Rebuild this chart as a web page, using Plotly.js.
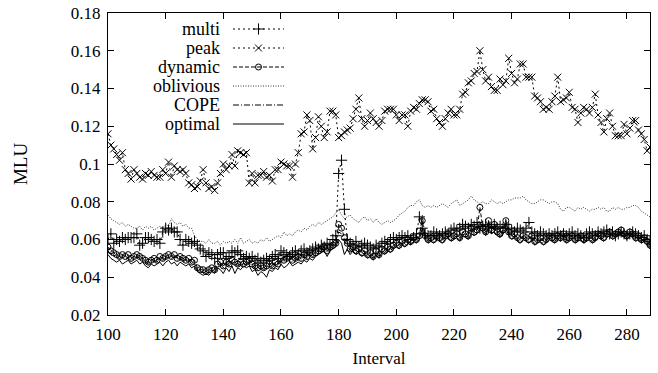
<!DOCTYPE html>
<html>
<head>
<meta charset="utf-8">
<script src="https://cdn.plot.ly/plotly-3.0.1.min.js"></script>
<style>html,body{margin:0;padding:0;background:#fff;}#chart{width:658px;height:373px;}</style>
</head>
<body>
<div id="chart"></div>
<script>
// ---- data (interval index starts at 100, one value per interval) ----
const FIRST_INTERVAL = 100;
const seriesNames = ["multi", "peak", "dynamic", "oblivious", "COPE", "optimal"];

const multi = [
0.060,0.063,0.058,0.060,0.059,0.061,0.060,0.061,0.061,0.061,
0.063,0.057,0.058,0.061,0.061,0.060,0.059,0.060,0.058,0.064,
0.066,0.065,0.066,0.064,0.064,0.060,0.057,0.060,0.059,0.058,
0.059,0.057,0.055,0.054,0.051,0.053,0.052,0.050,0.052,0.053,
0.053,0.050,0.051,0.054,0.053,0.054,0.052,0.050,0.051,0.050,
0.051,0.049,0.050,0.048,0.049,0.050,0.049,0.051,0.052,0.050,
0.054,0.053,0.052,0.051,0.053,0.054,0.052,0.054,0.055,0.053,
0.054,0.055,0.056,0.055,0.057,0.056,0.058,0.057,0.060,0.062,
0.095,0.102,0.076,0.060,0.058,0.057,0.059,0.056,0.057,0.058,
0.057,0.056,0.055,0.057,0.056,0.058,0.059,0.058,0.060,0.061,
0.060,0.061,0.062,0.061,0.062,0.060,0.061,0.063,0.072,0.066,
0.063,0.062,0.062,0.064,0.063,0.062,0.063,0.064,0.063,0.065,
0.066,0.065,0.066,0.068,0.067,0.066,0.068,0.067,0.069,0.066,
0.067,0.068,0.067,0.066,0.068,0.066,0.067,0.066,0.068,0.066,
0.065,0.064,0.066,0.065,0.064,0.066,0.069,0.064,0.063,0.062,
0.064,0.063,0.062,0.063,0.062,0.063,0.064,0.062,0.063,0.062,
0.063,0.064,0.062,0.063,0.062,0.061,0.063,0.064,0.063,0.062,
0.064,0.063,0.064,0.065,0.063,0.064,0.062,0.063,0.064,0.063,
0.062,0.063,0.064,0.063,0.062,0.061,0.062,0.060,0.059];

const peak = [
0.116,0.110,0.108,0.105,0.102,0.106,0.097,0.095,0.092,0.097,
0.095,0.093,0.092,0.095,0.094,0.096,0.094,0.093,0.093,0.097,
0.095,0.101,0.093,0.099,0.097,0.096,0.097,0.095,0.090,0.089,
0.087,0.088,0.091,0.097,0.090,0.087,0.088,0.086,0.090,0.095,
0.100,0.097,0.099,0.105,0.099,0.107,0.106,0.105,0.106,0.090,
0.095,0.090,0.094,0.094,0.096,0.093,0.094,0.091,0.097,0.097,
0.101,0.100,0.099,0.099,0.093,0.100,0.106,0.116,0.117,0.126,
0.123,0.108,0.114,0.125,0.120,0.114,0.117,0.128,0.128,0.126,
0.114,0.115,0.117,0.118,0.119,0.124,0.129,0.135,0.124,0.120,
0.123,0.127,0.124,0.122,0.120,0.123,0.128,0.129,0.129,0.129,
0.126,0.123,0.126,0.126,0.120,0.128,0.130,0.129,0.132,0.134,
0.134,0.133,0.128,0.129,0.124,0.122,0.120,0.124,0.127,0.129,
0.126,0.126,0.129,0.137,0.138,0.143,0.144,0.148,0.149,0.160,
0.150,0.144,0.146,0.141,0.139,0.139,0.145,0.142,0.144,0.156,
0.148,0.143,0.145,0.153,0.153,0.146,0.146,0.146,0.136,0.135,
0.133,0.129,0.130,0.129,0.133,0.136,0.146,0.133,0.134,0.135,
0.138,0.130,0.129,0.122,0.127,0.130,0.129,0.127,0.130,0.137,
0.126,0.122,0.117,0.124,0.127,0.120,0.115,0.115,0.115,0.121,
0.116,0.119,0.123,0.123,0.118,0.116,0.113,0.107,0.109];

const dynamic = [
0.056,0.054,0.053,0.052,0.051,0.052,0.051,0.052,0.050,0.051,
0.052,0.051,0.050,0.049,0.048,0.049,0.050,0.049,0.051,0.050,
0.051,0.052,0.051,0.052,0.050,0.051,0.050,0.049,0.050,0.048,
0.049,0.045,0.044,0.044,0.043,0.044,0.045,0.044,0.047,0.048,
0.046,0.048,0.047,0.049,0.048,0.047,0.048,0.047,0.048,0.049,
0.047,0.046,0.045,0.046,0.045,0.046,0.047,0.046,0.048,0.047,
0.050,0.049,0.050,0.051,0.049,0.050,0.051,0.050,0.052,0.051,
0.053,0.052,0.053,0.054,0.055,0.056,0.054,0.056,0.057,0.058,
0.068,0.066,0.061,0.058,0.055,0.056,0.054,0.055,0.053,0.054,
0.052,0.053,0.051,0.054,0.052,0.055,0.054,0.056,0.055,0.057,
0.058,0.057,0.059,0.058,0.060,0.059,0.061,0.060,0.062,0.070,
0.062,0.060,0.061,0.060,0.062,0.061,0.060,0.062,0.063,0.061,
0.062,0.063,0.061,0.064,0.063,0.062,0.066,0.064,0.065,0.077,
0.066,0.064,0.070,0.065,0.068,0.064,0.063,0.065,0.070,0.064,
0.062,0.063,0.061,0.060,0.062,0.061,0.060,0.062,0.059,0.060,
0.061,0.059,0.060,0.062,0.061,0.060,0.062,0.061,0.063,0.060,
0.061,0.062,0.060,0.061,0.062,0.060,0.061,0.062,0.060,0.061,
0.063,0.062,0.061,0.063,0.064,0.062,0.063,0.064,0.065,0.063,
0.062,0.064,0.063,0.061,0.062,0.060,0.061,0.059,0.057];

const oblivious = [
0.073,0.071,0.070,0.069,0.068,0.069,0.067,0.068,0.067,0.066,
0.066,0.067,0.065,0.067,0.066,0.067,0.065,0.066,0.067,0.066,
0.068,0.067,0.071,0.069,0.068,0.069,0.067,0.068,0.066,0.066,
0.062,0.060,0.059,0.059,0.058,0.060,0.058,0.058,0.059,0.057,
0.059,0.058,0.059,0.058,0.060,0.058,0.061,0.058,0.059,0.060,
0.058,0.059,0.058,0.060,0.059,0.061,0.059,0.060,0.061,0.062,
0.061,0.064,0.062,0.063,0.062,0.064,0.065,0.064,0.066,0.065,
0.067,0.068,0.067,0.069,0.068,0.069,0.070,0.071,0.072,0.074,
0.076,0.073,0.071,0.072,0.073,0.071,0.070,0.069,0.071,0.072,
0.070,0.071,0.069,0.071,0.069,0.068,0.069,0.070,0.069,0.070,
0.071,0.073,0.074,0.075,0.077,0.078,0.078,0.080,0.081,0.078,
0.077,0.078,0.077,0.078,0.077,0.078,0.079,0.078,0.077,0.079,
0.080,0.081,0.078,0.079,0.080,0.081,0.083,0.081,0.080,0.079,
0.080,0.079,0.079,0.081,0.080,0.079,0.080,0.079,0.080,0.081,
0.081,0.082,0.082,0.082,0.083,0.081,0.080,0.079,0.079,0.080,
0.081,0.081,0.080,0.079,0.080,0.080,0.079,0.076,0.075,0.077,
0.077,0.076,0.075,0.077,0.076,0.077,0.076,0.075,0.076,0.076,
0.077,0.076,0.077,0.075,0.075,0.077,0.076,0.077,0.076,0.076,
0.077,0.077,0.078,0.078,0.077,0.075,0.074,0.073,0.072];

const cope = [
0.054,0.052,0.051,0.051,0.050,0.051,0.050,0.050,0.049,0.050,
0.051,0.050,0.049,0.048,0.047,0.048,0.049,0.048,0.050,0.049,
0.050,0.051,0.050,0.051,0.049,0.050,0.049,0.048,0.049,0.047,
0.047,0.044,0.043,0.043,0.042,0.043,0.044,0.043,0.046,0.047,
0.045,0.047,0.046,0.048,0.047,0.046,0.047,0.046,0.047,0.048,
0.046,0.045,0.044,0.045,0.044,0.045,0.046,0.045,0.047,0.046,
0.049,0.048,0.049,0.050,0.048,0.049,0.050,0.049,0.051,0.050,
0.052,0.051,0.052,0.053,0.054,0.055,0.053,0.055,0.056,0.057,
0.064,0.063,0.059,0.057,0.054,0.055,0.053,0.054,0.052,0.053,
0.051,0.052,0.050,0.053,0.051,0.054,0.053,0.055,0.054,0.056,
0.057,0.056,0.058,0.057,0.059,0.058,0.060,0.059,0.061,0.073,
0.061,0.059,0.060,0.059,0.061,0.060,0.059,0.061,0.062,0.060,
0.061,0.062,0.060,0.063,0.062,0.061,0.065,0.063,0.064,0.070,
0.065,0.063,0.068,0.064,0.066,0.063,0.062,0.064,0.068,0.063,
0.061,0.062,0.060,0.059,0.061,0.060,0.059,0.061,0.058,0.059,
0.060,0.058,0.059,0.061,0.060,0.059,0.061,0.060,0.062,0.059,
0.060,0.061,0.059,0.060,0.061,0.059,0.060,0.061,0.059,0.060,
0.062,0.061,0.060,0.062,0.063,0.061,0.062,0.063,0.064,0.062,
0.061,0.063,0.062,0.060,0.061,0.059,0.060,0.058,0.056];

const optimal = [
0.052,0.050,0.049,0.048,0.049,0.047,0.048,0.049,0.047,0.048,
0.049,0.047,0.048,0.046,0.045,0.047,0.046,0.047,0.048,0.046,
0.048,0.049,0.047,0.048,0.046,0.048,0.047,0.046,0.047,0.045,
0.046,0.043,0.042,0.041,0.042,0.041,0.043,0.042,0.045,0.044,
0.042,0.045,0.043,0.046,0.042,0.045,0.044,0.046,0.045,0.046,
0.043,0.044,0.041,0.043,0.042,0.040,0.044,0.043,0.045,0.044,
0.047,0.045,0.046,0.048,0.046,0.047,0.048,0.047,0.049,0.048,
0.050,0.049,0.051,0.052,0.053,0.054,0.051,0.054,0.055,0.056,
0.060,0.058,0.052,0.055,0.052,0.054,0.052,0.053,0.051,0.052,
0.050,0.051,0.049,0.052,0.050,0.053,0.052,0.054,0.053,0.055,
0.056,0.055,0.057,0.056,0.058,0.057,0.059,0.058,0.060,0.066,
0.060,0.058,0.059,0.058,0.060,0.059,0.058,0.060,0.061,0.059,
0.060,0.061,0.059,0.062,0.061,0.060,0.063,0.062,0.063,0.066,
0.064,0.062,0.066,0.063,0.064,0.062,0.061,0.063,0.066,0.062,
0.060,0.061,0.059,0.058,0.060,0.059,0.058,0.060,0.057,0.058,
0.059,0.057,0.058,0.060,0.059,0.058,0.060,0.059,0.061,0.058,
0.059,0.060,0.058,0.059,0.060,0.058,0.059,0.060,0.058,0.059,
0.061,0.060,0.059,0.061,0.062,0.060,0.061,0.062,0.063,0.061,
0.060,0.062,0.061,0.059,0.060,0.058,0.059,0.057,0.055];

const xTickVals = [100,120,140,160,180,200,220,240,260,280];
const yTickVals = [0.02,0.04,0.06,0.08,0.1,0.12,0.14,0.16,0.18];

// ---- styling ----
const FONT = "Liberation Serif";
const styles = [
  {dash: "2px,3px", symbol: "cross-thin-open", size: 8, mode: "lines+markers"},
  {dash: "2px,3px", symbol: "x-thin-open", size: 7, mode: "lines+markers"},
  {dash: "4px,2px", symbol: "circle-open", size: 6, mode: "lines+markers"},
  {dash: "1px,1.5px", symbol: null, size: 0, mode: "lines"},
  {dash: "6px,2px,1px,2px", symbol: null, size: 0, mode: "lines"},
  {dash: "solid", symbol: null, size: 0, mode: "lines"}
];
const allSeries = [multi, peak, dynamic, oblivious, cope, optimal];

const xs = multi.map((_, i) => FIRST_INTERVAL + i);

const traces = allSeries.map((ys, k) => {
  const st = styles[k];
  const t = {
    type: "scatter", mode: st.mode, name: seriesNames[k],
    x: xs, y: ys, showlegend: false,
    line: {color: "#000", width: k === 3 ? 0.8 : 1, dash: st.dash},
    hoverinfo: "x+y"
  };
  if (st.symbol) t.marker = {symbol: st.symbol, size: st.size, color: "#000", line: {color: "#000", width: 1}};
  return t;
});

// ---- gnuplot-like key (text right-aligned, sample on the right) ----
const PL = 108, PR = 650, PT = 13, PB = 315;
const px2x = p => (p - PL) / (PR - PL);
const px2y = p => (PB - p) / (PB - PT);
const keyRow0 = 29, keyStep = 19, keyTextRight = 222, keyL0 = 233, keyL1 = 284;
const annotations = [];
seriesNames.forEach((nm, k) => {
  const py = keyRow0 + keyStep * k;
  const st = styles[k];
  annotations.push({
    xref: "paper", yref: "paper", x: px2x(keyTextRight), y: px2y(py),
    xanchor: "right", yanchor: "middle", showarrow: false, text: nm,
    font: {family: FONT, size: 18, color: "#000"}
  });
  traces.push({
    type: "scatter", mode: "lines", xaxis: "x2", yaxis: "y2",
    x: [px2x(keyL0), px2x(keyL1)], y: [px2y(py), px2y(py)],
    line: {color: "#000", width: k === 3 ? 0.8 : 1, dash: st.dash},
    showlegend: false, hoverinfo: "skip"
  });
  if (st.symbol) {
    traces.push({
      type: "scatter", mode: "markers", xaxis: "x2", yaxis: "y2",
      x: [px2x((keyL0 + keyL1) / 2)], y: [px2y(py)],
      marker: {symbol: st.symbol, size: st.size, color: "#000", line: {color: "#000", width: 1}},
      showlegend: false, hoverinfo: "skip"
    });
  }
});

const axisCommon = {
  showline: true, linecolor: "#000", linewidth: 1, mirror: "allticks",
  ticks: "inside", ticklen: 6, tickcolor: "#000", tickwidth: 1,
  showgrid: false, zeroline: false,
  tickfont: {family: FONT, size: 17, color: "#000"}
};

const layout = {
  width: 658, height: 373,
  margin: {l: PL, r: 658 - PR, t: PT, b: 373 - PB},
  paper_bgcolor: "#fff", plot_bgcolor: "#fff",
  showlegend: false,
  font: {family: FONT, size: 17, color: "#000"},
  xaxis: Object.assign({}, axisCommon, {
    range: [100, 288], tickmode: "array", tickvals: xTickVals,
    ticklabelstandoff: 4,
    title: {text: "Interval", font: {family: FONT, size: 17, color: "#000"}, standoff: 8}
  }),
  yaxis: Object.assign({}, axisCommon, {
    range: [0.02, 0.18], tickmode: "array", tickvals: yTickVals,
    ticktext: yTickVals.map(v => String(v)),
    ticklabelstandoff: 3,
    title: {text: "MLU", font: {family: FONT, size: 19, color: "#000"}, standoff: 38}
  }),
  xaxis2: {overlaying: "x", anchor: "y2", range: [0, 1], visible: false, fixedrange: true},
  yaxis2: {overlaying: "y", anchor: "x2", range: [0, 1], visible: false, fixedrange: true},
  annotations: annotations
};

Plotly.newPlot("chart", traces, layout, {staticPlot: true, displayModeBar: false});
</script>
</body>
</html>
